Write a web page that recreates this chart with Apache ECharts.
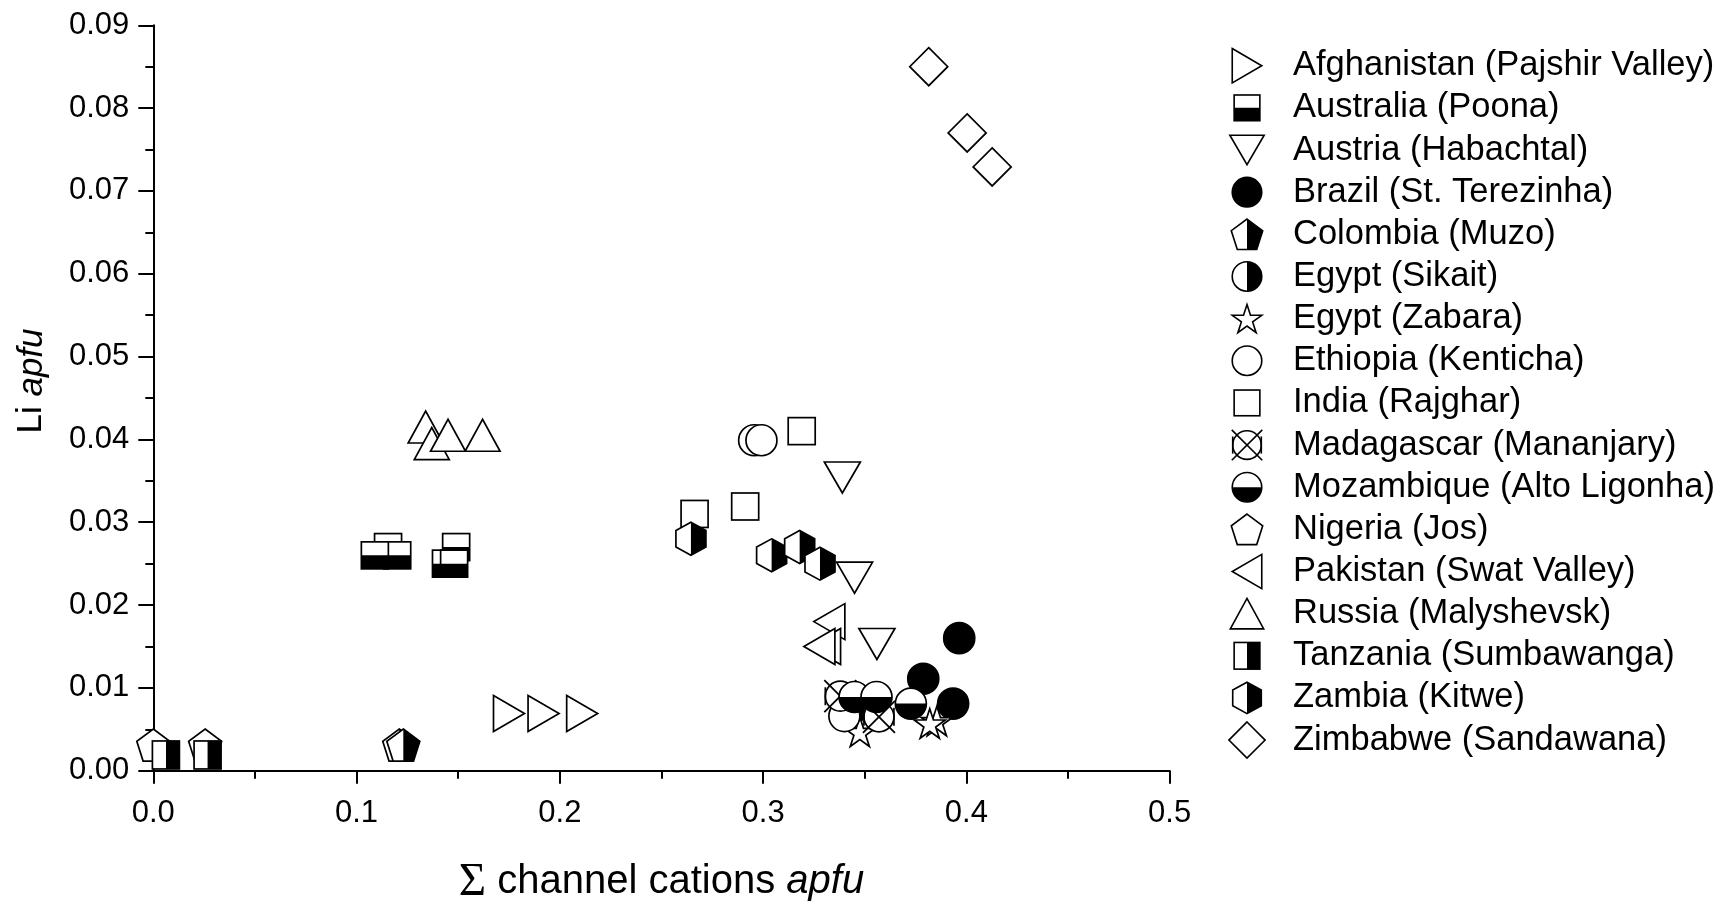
<!DOCTYPE html>
<html><head><meta charset="utf-8">
<script src="https://cdn.jsdelivr.net/npm/echarts@6/dist/echarts.min.js"></script>
<style>html,body{margin:0;padding:0;background:#fff}#c{width:1722px;height:902px}</style>
</head><body><div id="c"></div>
<script>
// ---------- data ----------
const locality = [
  'Afghanistan (Pajshir Valley)', 'Australia (Poona)', 'Austria (Habachtal)',
  'Brazil (St. Terezinha)', 'Colombia (Muzo)', 'Egypt (Sikait)', 'Egypt (Zabara)',
  'Ethiopia (Kenticha)', 'India (Rajghar)', 'Madagascar (Mananjary)',
  'Mozambique (Alto Ligonha)', 'Nigeria (Jos)', 'Pakistan (Swat Valley)',
  'Russia (Malyshevsk)', 'Tanzania (Sumbawanga)', 'Zambia (Kitwe)', 'Zimbabwe (Sandawana)'
];
const afghanistan = [[0.175, 0.0069], [0.192, 0.0069], [0.211, 0.0069]];
const australia = [[0.1155, 0.027], [0.149, 0.027], [0.120, 0.026], [0.109, 0.026], [0.144, 0.025], [0.148, 0.025]];
const austria = [[0.339, 0.0354], [0.345, 0.0233], [0.356, 0.0153]];
const brazil = [[0.3965, 0.016], [0.3788, 0.0111], [0.3935, 0.0081]];
const colombia = [[0.121, 0.0031], [0.123, 0.0031]];
const egyptSikait = [[0.342, 0.0070]];
const egyptZabara = [[0.3476, 0.0047], [0.3855, 0.0060], [0.382, 0.0057]];
const ethiopia = [[0.2956, 0.0399], [0.2992, 0.0399], [0.340, 0.0066]];
const india = [[0.319, 0.041], [0.2912, 0.0319], [0.2663, 0.031]];
const madagascar = [[0.338, 0.0090], [0.357, 0.0065]];
const mozambique = [[0.345, 0.0089], [0.3558, 0.0089], [0.3727, 0.0081]];
const nigeria = [[0.0, 0.0031], [0.0255, 0.0031]];
const pakistan = [[0.3326, 0.018], [0.3305, 0.015], [0.3277, 0.015]];
const russia = [[0.134, 0.0415], [0.137, 0.0395], [0.145, 0.0405], [0.162, 0.0405]];
const tanzania = [[0.0062, 0.0019], [0.0267, 0.0019]];
const zambia = [[0.2645, 0.028], [0.3042, 0.026], [0.318, 0.027], [0.328, 0.025]];
const zimbabwe = [[0.3815, 0.085], [0.4004, 0.077], [0.4127, 0.0729]];
const xTickLabels = ['0.0', '0.1', '0.2', '0.3', '0.4', '0.5'];
const yTickLabels = ['0.00', '0.01', '0.02', '0.03', '0.04', '0.05', '0.06', '0.07', '0.08', '0.09'];

// ---------- marker drawing (SVG images) ----------
const S = 42, C = S / 2, SW = 1.7, K = '#000';
function pts(a) { return a.map(p => p[0].toFixed(2) + ',' + p[1].toFixed(2)).join(' '); }
function svgUrl(body) {
  const s = `<svg xmlns="http://www.w3.org/2000/svg" width="${S}" height="${S}" viewBox="0 0 ${S} ${S}">${body}</svg>`;
  return 'image://data:image/svg+xml;charset=utf-8,' + encodeURIComponent(s);
}
const polyShape = P => a => `<polygon points="${pts(P)}" ${a}/>`;
const circShape = d => a => `<circle cx="${C}" cy="${C}" r="${d / 2}" ${a}/>`;
const rectShape = (w, h) => a => `<rect x="${C - w / 2}" y="${C - h / 2}" width="${w}" height="${h}" ${a}/>`;
function makeSym(shape, fill, half, extra) {
  let body = '';
  if (half) {
    const r = half === 'right' ? `x="${C}" y="0" width="${C}" height="${S}"` : `x="0" y="${C}" width="${S}" height="${C}"`;
    body += `<defs><clipPath id="h"><rect ${r}/></clipPath></defs>`;
  }
  body += shape(`fill="${fill === 'black' ? K : '#fff'}" stroke="none"`);
  if (half) body += shape(`fill="${K}" stroke="none" clip-path="url(#h)"`);
  body += shape(`fill="none" stroke="${K}" stroke-width="${SW}" stroke-linejoin="miter"`);
  if (extra) body += extra;
  return svgUrl(body);
}
function tri(dir, w, h) {
  const l = C - w / 2, r = C + w / 2, t = C - h / 2, b = C + h / 2;
  if (dir === 'right') return [[l, t], [r, C], [l, b]];
  if (dir === 'left') return [[r, t], [l, C], [r, b]];
  if (dir === 'up') return [[l, b], [C, t], [r, b]];
  return [[l, t], [r, t], [C, b]];
}
function pentagon(w, h) {
  const base = [[0, -1], [0.951, -0.309], [0.588, 0.809], [-0.588, 0.809], [-0.951, -0.309]];
  return base.map(p => [C + p[0] * w / 1.902, C + (p[1] + 0.0955) * h / 1.809]);
}
function hexagon(w, h) {
  const base = [[0, -1], [0.866, -0.5], [0.866, 0.5], [0, 1], [-0.866, 0.5], [-0.866, -0.5]];
  return base.map(p => [C + p[0] * w / 1.732, C + p[1] * h / 2]);
}
function star(w) {
  const R = w / 1.902, r = R * 0.382, out = [];
  for (let i = 0; i < 10; i++) {
    const a = (-90 + i * 36) * Math.PI / 180, rr = i % 2 ? r : R;
    out.push([C + rr * Math.cos(a), C + rr * Math.sin(a) + 0.0955 * R]);
  }
  return out;
}
function diamond(d) { return [[C, C - d / 2], [C + d / 2, C], [C, C + d / 2], [C - d / 2, C]]; }
const xLines = (() => {
  const q = 16;
  return `<line x1="${C - q}" y1="${C - q}" x2="${C + q}" y2="${C + q}" stroke="${K}" stroke-width="${SW}"/>` +
         `<line x1="${C - q}" y1="${C + q}" x2="${C + q}" y2="${C - q}" stroke="${K}" stroke-width="${SW}"/>` +
         `<line x1="${C - 15}" y1="${C - 9}" x2="${C - 15}" y2="${C + 9}" stroke="${K}" stroke-width="${SW}"/>` +
         `<line x1="${C + 15}" y1="${C - 9}" x2="${C + 15}" y2="${C + 9}" stroke="${K}" stroke-width="${SW}"/>`;
})();

const symbols = [
  makeSym(polyShape(tri('right', 31, 36)), 'white'),
  makeSym(rectShape(27, 27), 'white', 'bottom'),
  makeSym(polyShape(tri('down', 36, 31)), 'white'),
  makeSym(circShape(31), 'black'),
  makeSym(polyShape(pentagon(33, 32)), 'white', 'right'),
  makeSym(circShape(31), 'white', 'right'),
  makeSym(polyShape(star(31)), 'white'),
  makeSym(circShape(31), 'white'),
  makeSym(rectShape(27, 27), 'white'),
  makeSym(circShape(30), 'white', null, xLines),
  makeSym(circShape(31), 'white', 'bottom'),
  makeSym(polyShape(pentagon(33, 32)), 'white'),
  makeSym(polyShape(tri('left', 31, 36)), 'white'),
  makeSym(polyShape(tri('up', 35, 32)), 'white'),
  makeSym(rectShape(27, 28), 'white', 'right'),
  makeSym(polyShape(hexagon(30, 33)), 'white', 'right'),
  makeSym(polyShape(diamond(38)), 'white')
];
const seriesData = [afghanistan, australia, austria, brazil, colombia, egyptSikait, egyptZabara,
  ethiopia, india, madagascar, mozambique, nigeria, pakistan, russia, tanzania, zambia, zimbabwe];

// ---------- chart ----------
const FONT = '"Liberation Sans", Arial, Helvetica, sans-serif';
const TXT = '#000';
const chart = echarts.init(document.getElementById('c'), null, { renderer: 'canvas' });
chart.setOption({
  animation: false,
  backgroundColor: '#fff',
  grid: { left: 153.3, top: 25.3, width: 1016.3, height: 745.4, containLabel: false, outerBoundsMode: 'none' },
  xAxis: {
    type: 'value', min: 0, max: 0.5, interval: 0.1,
    name: '{s|Σ} channel cations {i|apfu}', nameLocation: 'middle', nameGap: 88,
    nameTextStyle: {
      fontFamily: FONT, fontSize: 40, color: TXT,
      rich: {
        s: { fontFamily: '"Liberation Serif", "DejaVu Serif", serif', fontSize: 47, color: TXT },
        i: { fontFamily: FONT, fontSize: 40, fontStyle: 'italic', color: TXT }
      }
    },
    axisLine: { onZero: false, lineStyle: { color: TXT, width: 2 } },
    axisTick: { show: true, inside: false, length: 13, lineStyle: { color: TXT, width: 2 } },
    minorTick: { show: true, splitNumber: 2, length: 8, lineStyle: { color: TXT, width: 2 } },
    splitLine: { show: false },
    axisLabel: {
      margin: 27, fontFamily: FONT, fontSize: 31, color: TXT,
      formatter: v => xTickLabels[Math.round(v / 0.1)]
    }
  },
  yAxis: {
    type: 'value', min: 0, max: 0.09, interval: 0.01,
    name: 'Li {i|apfu}', nameLocation: 'middle', nameGap: 104,
    nameTextStyle: {
      fontFamily: FONT, fontSize: 35, color: TXT, padding: [0, 0, 0, 34],
      rich: { i: { fontFamily: FONT, fontSize: 35, fontStyle: 'italic', color: TXT } }
    },
    axisLine: { onZero: false, lineStyle: { color: TXT, width: 2 } },
    axisTick: { show: true, inside: false, length: 15, lineStyle: { color: TXT, width: 2 } },
    minorTick: { show: true, splitNumber: 2, length: 8, lineStyle: { color: TXT, width: 2 } },
    splitLine: { show: false },
    axisLabel: {
      margin: 24, fontFamily: FONT, fontSize: 31, color: TXT,
      formatter: v => yTickLabels[Math.round(v / 0.01)]
    }
  },
  legend: {
    orient: 'vertical', left: 1201, top: 40.7,
    itemWidth: 82, itemHeight: 40, itemGap: 2.15,
    selectedMode: false,
    textStyle: { fontFamily: FONT, fontSize: 34.5, color: TXT, lineHeight: 40 },
    data: locality
  },
  series: locality.map((name, i) => ({
    name, type: 'scatter', data: seriesData[i],
    symbol: symbols[i], symbolSize: S, clip: false,
    itemStyle: { opacity: 1 },
    emphasis: { disabled: true }
  }))
});
</script>
</body></html>
